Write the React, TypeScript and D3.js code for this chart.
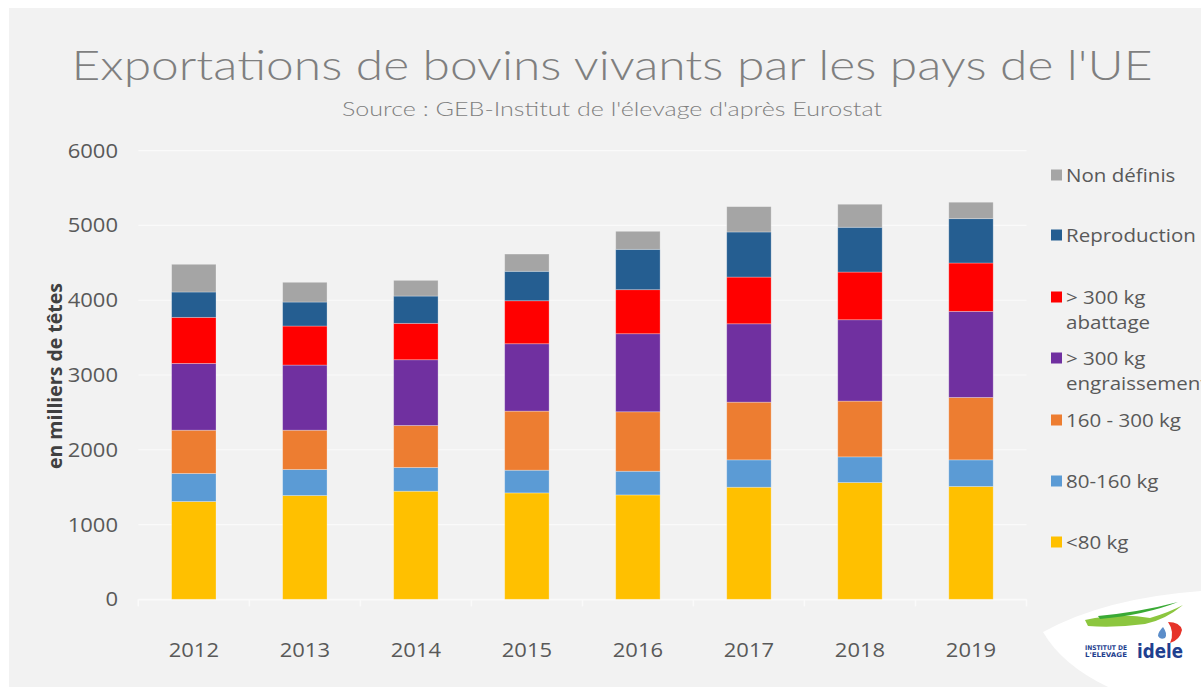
import React from "react";
import * as d3 from "d3";

const years = ["2012", "2013", "2014", "2015", "2016", "2017", "2018", "2019"];
const seriesNames = ["<80 kg", "80-160 kg", "160 - 300 kg", "> 300 kg engraissement", "> 300 kg abattage", "Reproduction", "Non définis"];
const under80 = [1308, 1388, 1446, 1423, 1396, 1499, 1562, 1509];
const kg80to160 = [375, 348, 317, 304, 317, 366, 343, 356];
const kg160to300 = [579, 526, 562, 790, 795, 772, 746, 835];
const over300Engr = [893, 871, 879, 901, 1044, 1048, 1088, 1151];
const over300Abat = [616, 522, 487, 575, 589, 625, 638, 647];
const reproduction = [339, 321, 365, 394, 540, 603, 599, 593];
const nonDefinis = [371, 264, 210, 231, 241, 339, 308, 220];
const colors = ["#FFC000", "#5B9BD5", "#ED7D31", "#7030A0", "#FF0000", "#255E91", "#A5A5A5"];
const yTicks = [0, 1000, 2000, 3000, 4000, 5000, 6000];

const legendItems = [
  { lines: ["Non définis"], color: "#A5A5A5", y: 175 },
  { lines: ["Reproduction"], color: "#255E91", y: 235 },
  { lines: ["> 300 kg", "abattage"], color: "#FF0000", y: 297 },
  { lines: ["> 300 kg", "engraissement"], color: "#7030A0", y: 358 },
  { lines: ["160 - 300 kg"], color: "#ED7D31", y: 420 },
  { lines: ["80-160 kg"], color: "#5B9BD5", y: 481 },
  { lines: ["<80 kg"], color: "#FFC000", y: 542 },
];

export default function App() {
  const W = 1201, H = 687;
  const left = 138.3, right = 1026.5, top = 150.7, bottom = 599.3;
  const x = d3.scaleBand<string>().domain(years).range([left, right]).paddingInner(0.6).paddingOuter(0.3);
  const xOuter = d3.scaleBand<string>().domain(years).range([left, right]);
  const y = d3.scaleLinear().domain([0, 6000]).range([bottom, top]);

  const table = years.map((yr, i) => ({
    year: yr,
    s0: under80[i], s1: kg80to160[i], s2: kg160to300[i], s3: over300Engr[i],
    s4: over300Abat[i], s5: reproduction[i], s6: nonDefinis[i],
  }));
  const keys = ["s0", "s1", "s2", "s3", "s4", "s5", "s6"];
  const stacked = d3.stack<any>().keys(keys)(table);
  const font = "'Open Sans', 'DejaVu Sans', sans-serif";

  return (
    <svg width={W} height={H} style={{ position: "absolute", left: 0, top: 0 }} xmlns="http://www.w3.org/2000/svg">
      <rect x={0} y={0} width={W} height={H} fill="#ffffff" />
      <rect x={9} y={8} width={W - 9} height={H - 8} fill="#F2F2F2" />

      <text x={612} y={80} textAnchor="middle" fontFamily="Lato, 'Open Sans', sans-serif" fontWeight={300} fontSize={42}
        fill="#7F7F7F" textLength={1081} lengthAdjust="spacingAndGlyphs">Exportations de bovins vivants par les pays de l'UE</text>
      <text x={612} y={116} textAnchor="middle" fontFamily="Lato, 'Open Sans', sans-serif" fontWeight={300} fontSize={19}
        fill="#7F7F7F" textLength={540} lengthAdjust="spacingAndGlyphs">Source : GEB-Institut de l'élevage d'après Eurostat</text>

      {yTicks.map(t => (
        <g key={t}>
          <line x1={left} x2={right} y1={y(t)} y2={y(t)} stroke="#FAFAFA" strokeWidth={1.2} />
          <g transform={`translate(118,${y(t) + 7}) scale(1.1,1)`}>
            <text x={0} y={0} textAnchor="end" fontFamily={font} fontSize={20} fill="#595959">{t}</text>
          </g>
        </g>
      ))}
      <line x1={left} x2={right} y1={bottom + 0.5} y2={bottom + 0.5} stroke="#FAFAFA" strokeWidth={1.5} />
      {years.map((yr, i) => (
        <line key={"tk" + yr} x1={xOuter(yr)!} x2={xOuter(yr)!} y1={bottom} y2={bottom + 7} stroke="#FAFAFA" strokeWidth={1.5} />
      ))}
      <line x1={right} x2={right} y1={bottom} y2={bottom + 7} stroke="#FAFAFA" strokeWidth={1.5} />

      {stacked.map((layer, li) => (
        <g key={li} fill={colors[li]}>
          {layer.map((d, i) => (
            <rect key={i} x={x(years[i])!} width={x.bandwidth()} y={y(d[1])} height={y(d[0]) - y(d[1])}
              stroke="rgba(255,255,255,0.35)" strokeWidth={0.8} />
          ))}
        </g>
      ))}

      {years.map(yr => (
        <g key={"xl" + yr} transform={`translate(${xOuter(yr)! + xOuter.bandwidth() / 2},657) scale(1.1,1)`}>
          <text x={0} y={0} textAnchor="middle" fontFamily={font} fontSize={20} fill="#595959">{yr}</text>
        </g>
      ))}

      <text transform="translate(62,376) rotate(-90)" textAnchor="middle" fontFamily={font} fontWeight={700} fontSize={19.5} fill="#404040">en milliers de têtes</text>

      {legendItems.map(it => (
        <g key={it.lines.join(" ")}>
          <rect x={1051} y={it.y - 5.5} width={11} height={11} fill={it.color} />
          {it.lines.map((ln, j) => (
            <g key={j} transform={`translate(1066,${it.y + 6.5 + j * 25}) scale(1.14,1)`}>
              <text x={0} y={0} fontFamily={font} fontSize={18} fill="#595959">{ln}</text>
            </g>
          ))}
        </g>
      ))}

      <path d="M1043,632 Q1105,598 1201,591 L1201,687 L1108,687 Q1062,665 1043,632 Z" fill="#ffffff" />
      <path d="M1085,620 Q1120,612 1150,618 Q1170,612 1183,605 Q1165,620 1145,624 Q1115,628 1088,626 Z" fill="#8CC63F" />
      <path d="M1098,616 Q1140,612 1178,602 Q1145,615 1100,619 Z" fill="#3AAA35" />
      <path d="M1168,622 Q1180,622 1182,630 Q1180,640 1170,643 Q1175,632 1168,622 Z" fill="#E63329" />
      <path d="M1163,627 Q1168,634 1165,638 Q1160,640 1158,636 Q1158,632 1163,627 Z" fill="#5B8DC9" />
      <text x={1085} y={650} fontFamily="'DejaVu Sans', sans-serif" fontWeight={700} fontSize={6.5} fill="#1F3F8F" textLength={42} lengthAdjust="spacingAndGlyphs">INSTITUT DE</text>
      <text x={1085} y={657} fontFamily="'DejaVu Sans', sans-serif" fontWeight={700} fontSize={6.5} fill="#1F3F8F" textLength={42} lengthAdjust="spacingAndGlyphs">L'ELEVAGE</text>
      <text x={1137} y={658} fontFamily="'DejaVu Sans', sans-serif" fontWeight={700} fontSize={19} fill="#1F3F8F" textLength={46} lengthAdjust="spacingAndGlyphs">idele</text>
    </svg>
  );
}
